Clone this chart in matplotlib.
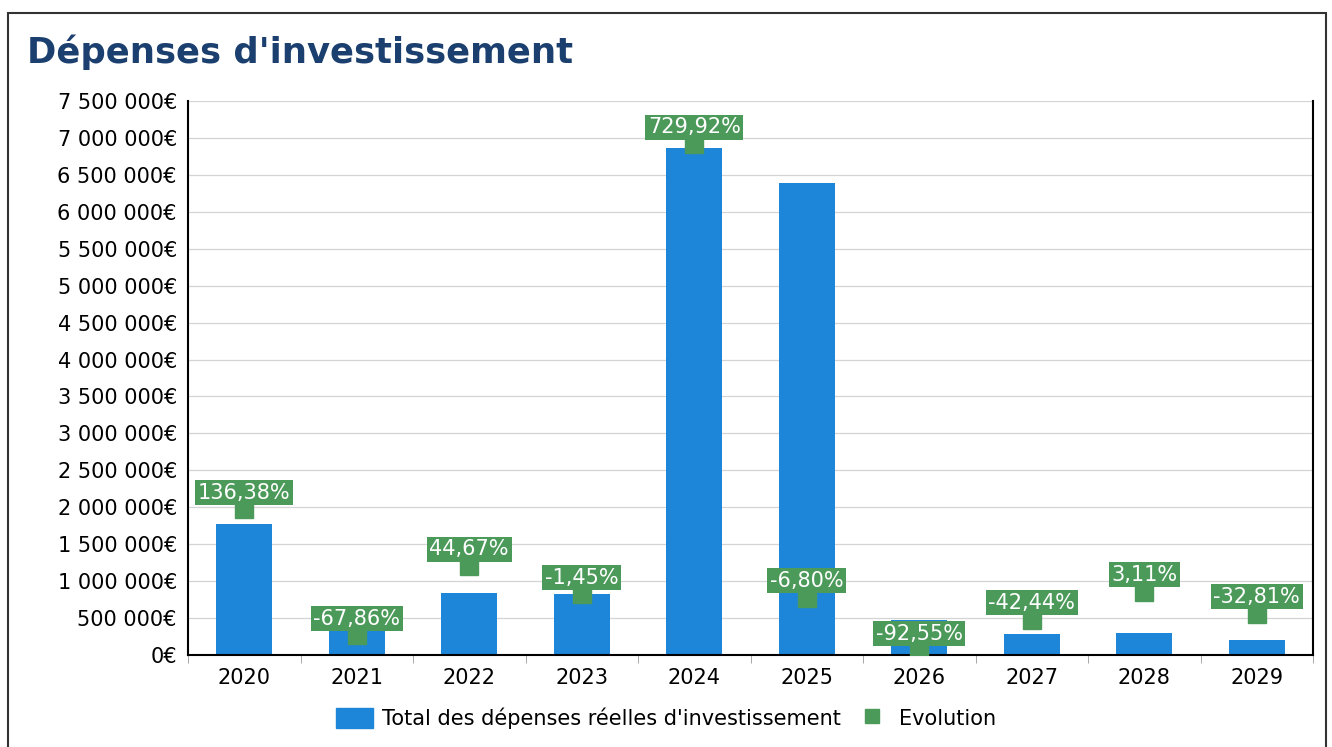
import matplotlib
matplotlib.use("Agg")
import matplotlib.pyplot as plt
from matplotlib.patches import Rectangle, Patch
from matplotlib.lines import Line2D
import numpy as np

years = ['2020', '2021', '2022', '2023', '2024', '2025', '2026', '2027', '2028', '2029']
depenses = [1780000, 580000, 840000, 830000, 6860000, 6390000, 480000, 285000, 300000, 200000]
evolution = [136.38, -67.86, 44.67, -1.45, 729.92, -6.80, -92.55, -42.44, 3.11, -32.81]
evolution_labels = ['136,38%', '-67,86%', '44,67%', '-1,45%', '729,92%',
                    '-6,80%', '-92,55%', '-42,44%', '3,11%', '-32,81%']

BLUE = '#1d86d9'
GREEN = '#4c9a5a'
TITLE = '#1b3f6e'

def euro(v, pos=None):
    s = '{:,}'.format(int(v)).replace(',', ' ')
    return s + '€'

fig = plt.figure(figsize=(13.32, 7.47), dpi=100)

# cadre autour du bloc
fig.patches.append(Rectangle((8/1332, -0.01), (1326-8)/1332, 1.01 - 13/747,
                             transform=fig.transFigure, fill=False,
                             edgecolor='#333333', lw=1.5))

fig.text(27/1332, 1 - 52/747, "Dépenses d'investissement", fontsize=25.5,
         fontweight='bold', color=TITLE, va='center', ha='left')

ax = fig.add_axes([188/1332, 92/747, (1313-188)/1332, (655-101)/747])
x = np.arange(len(years))
ax.bar(x, depenses, width=0.5, color=BLUE, zorder=2)

ax.set_xlim(-0.5, len(years) - 0.5)
ax.set_ylim(0, 7500000)
ax.set_yticks(np.arange(0, 7500001, 500000))
ax.yaxis.set_major_formatter(plt.FuncFormatter(euro))
ax.tick_params(axis='y', length=0, labelsize=15, pad=8)
ax.set_xticks(x)
ax.set_xticklabels(years)
ax.tick_params(axis='x', which='major', length=0, labelsize=15, pad=9)
ax.set_xticks(np.arange(-0.5, len(years)), minor=True)
ax.tick_params(axis='x', which='minor', length=6, color='#999999', direction='out')
ax.grid(axis='y', color='#d4d4d4', lw=0.9, zorder=0)
ax.set_axisbelow(True)
for side in ['left', 'bottom', 'right']:
    ax.spines[side].set_color('black')
    ax.spines[side].set_linewidth(1.5)
ax.spines['top'].set_visible(False)

ax2 = ax.twinx()
ax2.set_ylim(-100, 800)
ax2.axis('off')
ax2.plot(x, evolution, 's', color=GREEN, markersize=13, linestyle='none', zorder=3)
for i, (v, lab) in enumerate(zip(evolution, evolution_labels)):
    ax2.annotate(lab, (i, v), xytext=(0, 12), textcoords='offset points',
                 ha='center', va='center', fontsize=15, color='white',
                 bbox=dict(boxstyle='square,pad=0.12', fc=GREEN, ec='none'),
                 zorder=4)

handles = [Patch(color=BLUE, label="Total des dépenses réelles d'investissement"),
           Line2D([], [], marker='s', color=GREEN, linestyle='none', markersize=10,
                  label='Evolution')]
fig.legend(handles=handles, loc='center', bbox_to_anchor=(666/1332, 1 - 718/747),
           ncol=2, frameon=False, fontsize=15, handlelength=1.8, handleheight=1.1,
           handletextpad=0.4, columnspacing=0.6)

fig.savefig('out.png', dpi=100)
